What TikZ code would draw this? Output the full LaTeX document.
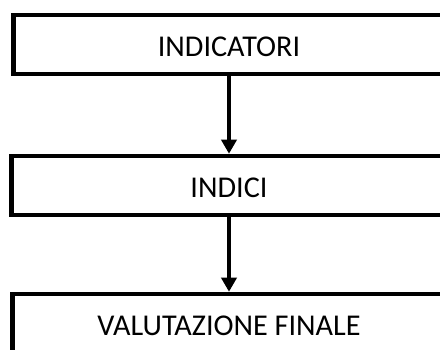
\documentclass[tikz,border=0pt]{standalone}
\usepackage{fontspec}
\setmainfont{Carlito}
\usepackage{tikz}
\usetikzlibrary{arrows.meta}

\begin{document}
\begin{tikzpicture}[x=1pt, y=-1pt, line width=4.5pt,
    box/.style={draw, rectangle, minimum height=59pt,
                text height=24pt, text depth=0pt,
                font=\fontsize{30.2}{36}\selectfont}]
    \clip (0,0) rectangle (440,350);

    \node[box, minimum width=431pt](ind) at (229, 44.5) {INDICATORI};
    \node[box, minimum width=435pt](idx) at (229,185.5) {INDICI};
    \node[box, minimum width=433pt](fin) at (229,323.5) {VALUTAZIONE FINALE};

    \draw[-{Triangle[width=15pt,length=14pt]}]
        (ind) edge (idx)
        (idx) edge (fin);
\end{tikzpicture}
\end{document}
